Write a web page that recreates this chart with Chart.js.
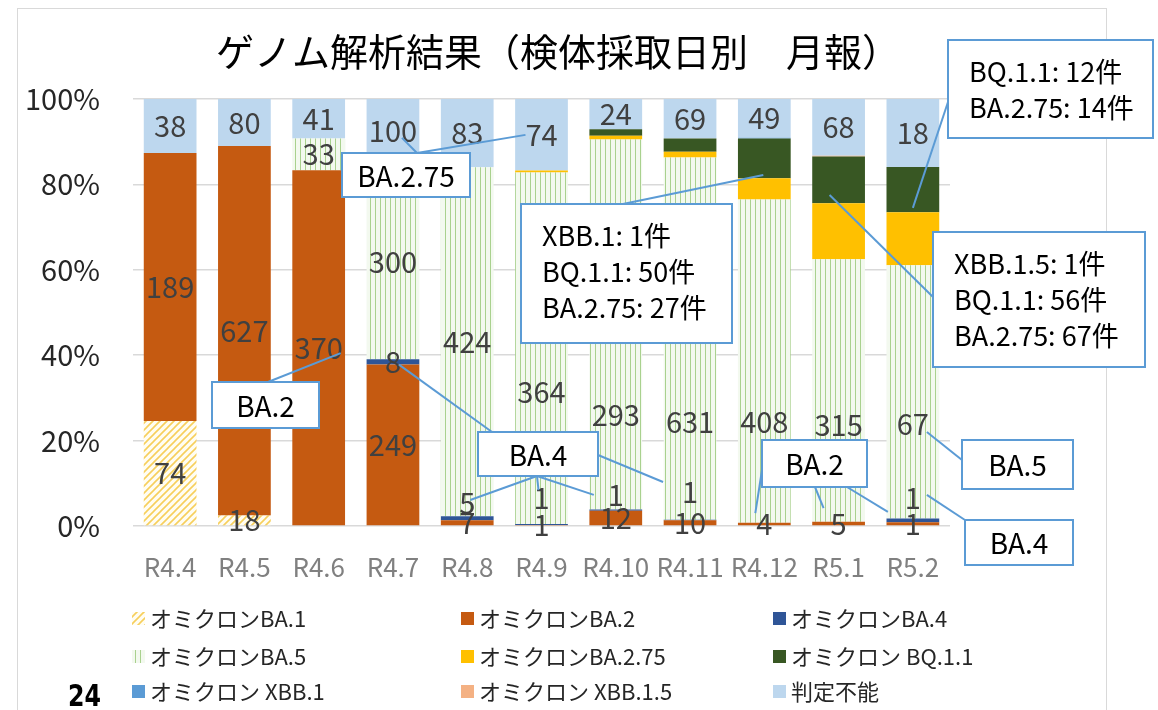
<!DOCTYPE html>
<html>
<head>
<meta charset="utf-8">
<script src="https://cdn.jsdelivr.net/npm/chart.js@4.4.1/dist/chart.umd.min.js"></script>
<style>
  html, body { margin: 0; padding: 0; background: #fff; }
</style>
</head>
<body>
<canvas id="mycanvas" width="1158" height="710"></canvas>
<script>
// months (reiwa year.month)
var months = ['R4.4','R4.5','R4.6','R4.7','R4.8','R4.9','R4.10','R4.11','R4.12','R5.1','R5.2'];

// counts per lineage
var ba1   = [74, 18, 0, 0, 0, 0, 0, 0, 0, 0, 0];
var ba2   = [189, 627, 370, 249, 7, 1, 12, 10, 4, 5, 1];
var ba4   = [0, 0, 0, 8, 5, 1, 1, 1, 0, 0, 1];
var ba5   = [0, 0, 33, 300, 424, 364, 293, 631, 408, 315, 67];
var ba275 = [0, 0, 0, 1, 0, 2, 3, 10, 27, 67, 14];
var bq11  = [0, 0, 0, 0, 0, 0, 5, 23, 50, 56, 12];
var xbb1  = [0, 0, 0, 0, 0, 0, 0, 0, 1, 0, 0];
var xbb15 = [0, 0, 0, 0, 0, 0, 0, 0, 0, 1, 0];
var unk   = [38, 80, 41, 100, 83, 74, 24, 69, 49, 68, 18];

var yTicks = [0, 20, 40, 60, 80, 100];

var jp = '"Noto Sans CJK JP", "Noto Sans", sans-serif';

// striped fills
function hatch() {
  var c = document.createElement('canvas');
  c.width = 7; c.height = 7;
  var g = c.getContext('2d');
  g.fillStyle = '#fffdf3';
  g.fillRect(0, 0, 7, 7);
  g.strokeStyle = '#f7cf5c';
  g.lineWidth = 1.6;
  g.beginPath();
  g.moveTo(-1, 8); g.lineTo(8, -1);
  g.moveTo(-1, 1); g.lineTo(1, -1);
  g.moveTo(6, 8); g.lineTo(8, 6);
  g.stroke();
  return g.createPattern(c, 'repeat');
}
function vstripe() {
  var c = document.createElement('canvas');
  c.width = 5; c.height = 5;
  var g = c.getContext('2d');
  g.fillStyle = '#f3f9ef';
  g.fillRect(0, 0, 5, 5);
  g.fillStyle = '#a9d18e';
  g.fillRect(0, 0, 1, 5);
  return g.createPattern(c, 'repeat');
}

var totals = months.map(function(m, i) {
  return ba1[i] + ba2[i] + ba4[i] + ba5[i] + ba275[i] + bq11[i] + xbb1[i] + xbb15[i] + unk[i];
});
function pct(arr) {
  return arr.map(function(v, i) { return v / totals[i] * 100; });
}

var series = [
  { key: 'ba1',   label: 'オミクロンBA.1',     counts: ba1,   color: hatch(),   show: true },
  { key: 'ba2',   label: 'オミクロンBA.2',     counts: ba2,   color: '#c55a11', show: true },
  { key: 'ba4',   label: 'オミクロンBA.4',     counts: ba4,   color: '#2f5597', show: true },
  { key: 'ba5',   label: 'オミクロンBA.5',     counts: ba5,   color: vstripe(), show: true },
  { key: 'ba275', label: 'オミクロンBA.2.75',  counts: ba275, color: '#ffc000', show: false },
  { key: 'bq11',  label: 'オミクロン BQ.1.1',  counts: bq11,  color: '#385723', show: false },
  { key: 'xbb1',  label: 'オミクロン XBB.1',   counts: xbb1,  color: '#5b9bd5', show: false },
  { key: 'xbb15', label: 'オミクロン XBB.1.5', counts: xbb15, color: '#f4b183', show: false },
  { key: 'unk',   label: '判定不能',           counts: unk,   color: '#bdd7ee', show: true }
];

// count labels that were moved off the segment centre (value = % height)
var labelAt = {
  ba4: { 4: 5.4, 5: 6.5, 6: 7.3, 7: 8.0, 10: 6.5 },
  ba5: { 5: 31.4, 6: 26.0, 7: 24.4, 8: 24.4, 9: 23.7, 10: 24.0 }
};

// call-out boxes; leader lines go from a box point to (category, dx px, %)
var callouts = [
  { box: [342, 153, 128, 44], text: ['BA.2.75'],
    lines: [[417, 153, 3, 9, 90.9], [417, 153, 5, -16, 91.6]] },
  { box: [212, 382, 107, 46], text: ['BA.2'],
    lines: [[268, 382, 2, 22, 40.5]] },
  { box: [478, 432, 120, 44], text: ['BA.4'],
    lines: [[492, 432, 3, 6, 37.8], [537, 476, 4, 3, 6.1], [537, 476, 5, -3, 8.4],
            [537, 476, 6, -22, 7.3], [598, 455, 7, -27, 10.3]] },
  { box: [762, 440, 105, 47], text: ['BA.2'],
    lines: [[762, 470, 8, -9, 3.0], [815, 487, 9, -15, 4.2], [847, 487, 10, -25, 3.3]] },
  { box: [521, 204, 211, 139], text: ['XBB.1: 1件', 'BQ.1.1: 50件', 'BA.2.75: 27件'],
    lines: [[623, 204, 8, -1, 82.2]] },
  { box: [933, 232, 212, 135], text: ['XBB.1.5: 1件', 'BQ.1.1: 56件', 'BA.2.75: 67件'],
    lines: [[933, 297, 9, -9, 77.5]] },
  { box: [948, 40, 205, 98], text: ['BQ.1.1: 12件', 'BA.2.75: 14件'],
    lines: [[948, 102, 10, 0, 74.5]] },
  { box: [962, 440, 111, 49], text: ['BA.5'],
    lines: [[962, 460, 10, 14, 22]] },
  { box: [965, 520, 108, 45], text: ['BA.4'],
    lines: [[965, 520, 10, 14, 7.3]] }
];

var countLabels = {
  id: 'countLabels',
  afterDatasetsDraw: function(chart) {
    var ctx = chart.ctx;
    var ys = chart.scales.y;
    ctx.save();
    ctx.font = '29px ' + jp;
    ctx.fillStyle = '#404040';
    ctx.textAlign = 'center';
    ctx.textBaseline = 'middle';
    series.forEach(function(s, d) {
      if (!s.show) return;
      var meta = chart.getDatasetMeta(d);
      meta.data.forEach(function(bar, i) {
        var n = s.counts[i];
        if (!n) return;
        var py = (bar.y + bar.base) / 2;
        if (labelAt[s.key] && labelAt[s.key][i] != null) py = ys.getPixelForValue(labelAt[s.key][i]);
        ctx.fillText(String(n), bar.x, py);
      });
    });
    ctx.restore();
  }
};

var decorations = {
  id: 'decorations',
  beforeDraw: function(chart) {
    var ctx = chart.ctx;
    ctx.save();
    ctx.fillStyle = '#fff';
    ctx.fillRect(0, 0, chart.width, chart.height);
    ctx.strokeStyle = '#d9d9d9';
    ctx.lineWidth = 1;
    ctx.strokeRect(17.5, 8.5, 1089, 720);
    ctx.restore();
  },
  afterDraw: function(chart) {
    var ctx = chart.ctx;
    var xs = chart.scales.x, ys = chart.scales.y;
    ctx.save();

    // title
    ctx.fillStyle = '#000';
    ctx.font = '38px ' + jp;
    ctx.textAlign = 'center';
    ctx.textBaseline = 'middle';
    ctx.fillText('ゲノム解析結果（検体採取日別　月報）', 558, 52);

    // legend, three columns
    var colX = [132, 461, 773], rowY = [619, 657, 692];
    ctx.font = '22px ' + jp;
    ctx.textAlign = 'left';
    series.forEach(function(s, k) {
      var x = colX[k % 3], y = rowY[Math.floor(k / 3)];
      ctx.fillStyle = s.color;
      ctx.fillRect(x, y - 7, 13, 13);
      ctx.fillStyle = '#262626';
      ctx.fillText(s.label, x + 18, y);
    });

    // leader lines
    ctx.strokeStyle = '#5b9bd5';
    ctx.lineWidth = 2;
    callouts.forEach(function(c) {
      c.lines.forEach(function(l) {
        ctx.beginPath();
        ctx.moveTo(l[0], l[1]);
        ctx.lineTo(xs.getPixelForValue(l[2]) + l[3], ys.getPixelForValue(l[4]));
        ctx.stroke();
      });
    });
    // boxes
    callouts.forEach(function(c) {
      var b = c.box;
      ctx.fillStyle = '#fff';
      ctx.fillRect(b[0], b[1], b[2], b[3]);
      ctx.strokeStyle = '#5b9bd5';
      ctx.strokeRect(b[0], b[1], b[2], b[3]);
      ctx.fillStyle = '#000';
      if (c.text.length === 1) {
        ctx.font = '28px ' + jp;
        ctx.textAlign = 'center';
        ctx.fillText(c.text[0], b[0] + b[2] / 2, b[1] + b[3] / 2 + 1);
      } else {
        ctx.font = '27px ' + jp;
        ctx.textAlign = 'left';
        c.text.forEach(function(t, j) {
          ctx.fillText(t, b[0] + 21, b[1] + 32 + j * 36);
        });
      }
    });

    // page number
    ctx.fillStyle = '#000';
    ctx.font = 'bold 31px "DejaVu Sans Condensed", "DejaVu Sans", sans-serif';
    ctx.textAlign = 'left';
    ctx.textBaseline = 'alphabetic';
    ctx.save();
    ctx.translate(68, 706);
    ctx.scale(0.85, 1);
    ctx.fillText('24', 0, 0);
    ctx.restore();

    ctx.restore();
  }
};

var ctx = document.getElementById('mycanvas');

var barChart = new Chart(ctx, {
  type: 'bar',
  data: {
    labels: months,
    datasets: series.map(function(s) {
      return {
        label: s.label,
        data: pct(s.counts),
        backgroundColor: s.color,
        borderWidth: 0,
        categoryPercentage: 1,
        barPercentage: 0.71
      };
    })
  },
  options: {
    responsive: false,
    animation: false,
    layout: { padding: { top: 99, right: 208, left: 0, bottom: 0 } },
    plugins: {
      legend: { display: false },
      title: { display: false },
      tooltip: { enabled: false }
    },
    scales: {
      x: {
        stacked: true,
        grid: { display: false, drawTicks: false },
        border: { display: false },
        ticks: { color: '#808080', font: { size: 26, family: jp }, padding: 26, maxRotation: 0, autoSkip: false },
        afterFit: function(s) { s.height = 184; }
      },
      y: {
        stacked: true,
        min: 0,
        max: 100,
        afterBuildTicks: function(s) { s.ticks = yTicks.map(function(v) { return { value: v }; }); },
        ticks: {
          color: '#262626',
          font: { size: 29, family: jp },
          padding: 33,
          callback: function(v) { return v + '%'; }
        },
        grid: { color: '#d9d9d9', lineWidth: 1.5, drawTicks: false },
        border: { display: false },
        afterFit: function(s) { s.width = 133; }
      }
    }
  },
  plugins: [decorations, countLabels]
});
</script>
</body>
</html>
